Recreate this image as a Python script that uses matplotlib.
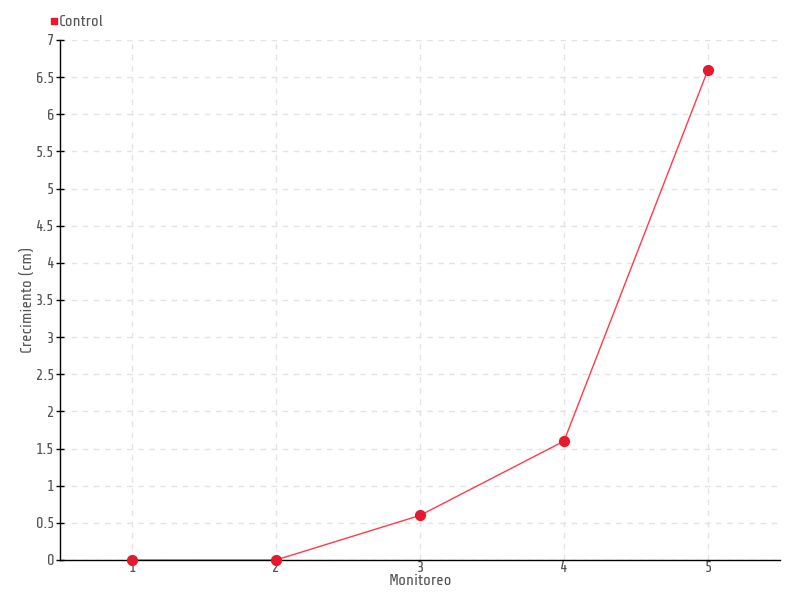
import matplotlib
matplotlib.use("Agg")
import matplotlib.pyplot as plt
from matplotlib.lines import Line2D

monitoreo = [1, 2, 3, 4, 5]
control = [0, 0, 0.6, 1.6, 6.6]
yticks = [0, 0.5, 1, 1.5, 2, 2.5, 3, 3.5, 4, 4.5, 5, 5.5, 6, 6.5, 7]
ytick_labels = ["0", "0.5", "1", "1.5", "2", "2.5", "3", "3.5", "4", "4.5", "5", "5.5", "6", "6.5", "7"]

plt.rcParams['font.family'] = ['Share Tech', 'DejaVu Sans']
TXT = '#555555'
fig = plt.figure(figsize=(8, 6), dpi=100)
ax = fig.add_axes([0.075, 0.0667, 0.9, 0.8667])

ax.plot(monitoreo, control, color='#ff3a4a', lw=1, zorder=3)
ax.scatter(monitoreo, control, s=50, color='#e8192c', zorder=4, clip_on=False)

ax.set_xlim(0.5, 5.5)
ax.set_ylim(0, 7)
ax.set_xticks(monitoreo)
ax.set_xticklabels([str(m) for m in monitoreo])
ax.set_yticks(yticks)
ax.set_yticklabels(ytick_labels)

for s in ['top', 'right']:
    ax.spines[s].set_visible(False)
for s in ['left', 'bottom']:
    ax.spines[s].set_color('black')
    ax.spines[s].set_linewidth(1)

ax.grid(True, color='#e3e3e3', linestyle=(0, (4, 4)), lw=1)
ax.set_axisbelow(True)
ax.tick_params(axis='x', length=0, labelcolor=TXT, labelsize=11.5, pad=1)
ax.tick_params(axis='y', direction='inout', length=6, width=1, color='black', labelcolor=TXT, labelsize=11.5, pad=1)

ax.set_xlabel('Monitoreo', color=TXT, fontsize=11.5, labelpad=-1)
ax.set_ylabel('Crecimiento (cm)', color=TXT, fontsize=11.5, labelpad=0.5)

handle = Line2D([], [], marker='s', color='#e8192c', ls='none', markersize=4.5)
fig.legend([handle], ['Control'], loc='center left', bbox_to_anchor=(0.061, 0.963),
           frameon=False, handletextpad=0.05, handlelength=0.6, fontsize=11.5,
           labelcolor=TXT, borderaxespad=0, borderpad=0)

fig.savefig('out.png', dpi=100)
